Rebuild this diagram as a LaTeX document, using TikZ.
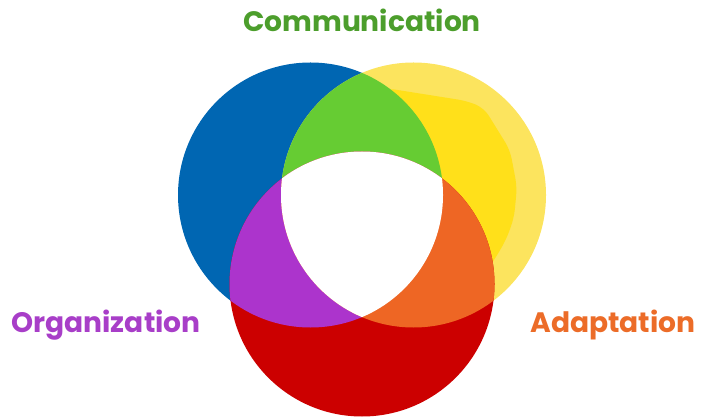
\documentclass[tikz,border=0pt]{standalone}
\usepackage{tikz}
\usepackage{xcolor}
\usepackage{fontspec}
\newfontfamily\vennfont{Poppins}

\definecolor{commblue}{RGB}{0,102,178}
\definecolor{paleyellow}{RGB}{252,228,94}
\definecolor{sunyellow}{RGB}{255,224,26}
\definecolor{orgred}{RGB}{204,0,0}
\definecolor{lensgreen}{RGB}{102,204,51}
\definecolor{lenspurple}{RGB}{172,52,204}
\definecolor{lensorange}{RGB}{238,102,36}
\definecolor{txtgreen}{RGB}{76,158,44}
\definecolor{txtpurple}{RGB}{168,62,200}
\definecolor{txtorange}{RGB}{236,108,40}

\begin{document}
\begin{tikzpicture}[x=0.02cm, y=-0.02cm,
    venntext/.style={font=\vennfont\bfseries\fontsize{16}{19}\selectfont, anchor=base}]
    \def\r{132.5}
    \useasboundingbox (0,0) rectangle (709,418);
    \coordinate (blue) at (310.5,195);
    \coordinate (yellow) at (413.5,195);
    \coordinate (red) at (362,284);
    % the three circles
    \fill[commblue] (blue) circle[radius=\r];
    \fill[paleyellow] (yellow) circle[radius=\r];
    \begin{scope}
        \clip (yellow) circle[radius=\r];
        \fill[sunyellow, rounded corners=5pt] (385,88) -- (467,101) -- (484,108) -- (510,150) -- (517,187)
            -- (514,218) -- (506,240) -- (493,262) -- (470,290) -- (380,200) -- cycle;
    \end{scope}
    \fill[orgred] (red) circle[radius=\r];
    % overlaps
    \begin{scope}
        \clip (blue) circle[radius=\r];
        \fill[lensgreen] (yellow) circle[radius=\r];
        \fill[lenspurple] (red) circle[radius=\r];
    \end{scope}
    \begin{scope}
        \clip (yellow) circle[radius=\r];
        \fill[lensorange] (red) circle[radius=\r];
        \clip (blue) circle[radius=\r];
        \fill[white] (red) circle[radius=\r];
    \end{scope}
    \node[venntext, color=txtgreen] (comm) at (362,32) {Communication};
    \node[venntext, color=txtpurple] (org) at (106,332) {Organization};
    \node[venntext, color=txtorange] (adapt) at (613,332) {Adaptation};
\end{tikzpicture}
\end{document}
